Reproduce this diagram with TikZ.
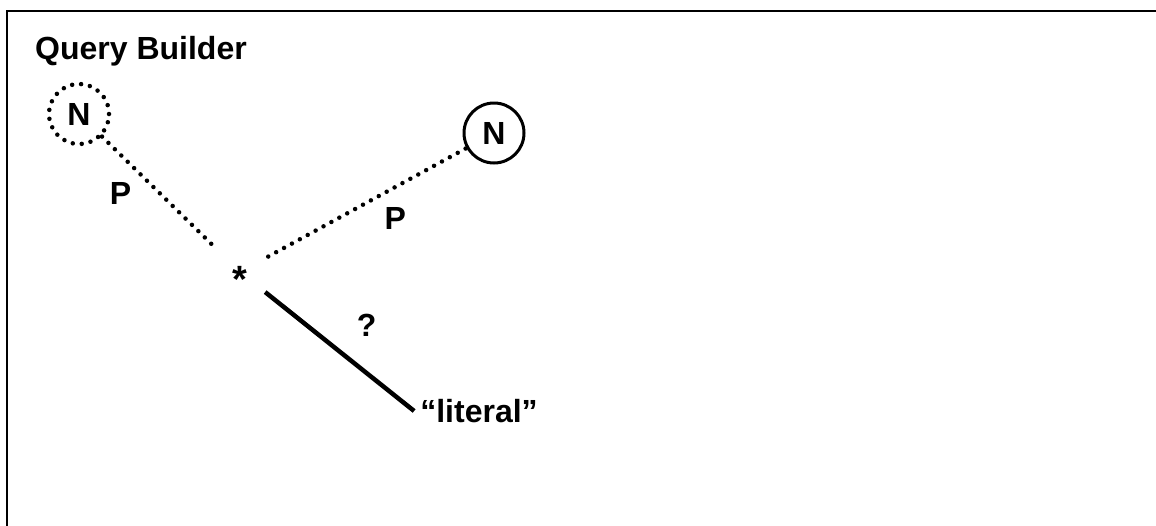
\documentclass[tikz,border=0pt]{standalone}
\usepackage{fontspec}
\setmainfont{Liberation Sans}
\usetikzlibrary{positioning}

\begin{document}
\begin{tikzpicture}[
  x=1pt, y=-1pt,
  font=\fontsize{32}{38}\selectfont\bfseries,
  term/.style={draw, circle, minimum size=60pt, inner sep=0pt},
  dotline/.style={line width=4.5pt, line cap=round, dash pattern=on 0pt off 9pt},
  solidline/.style={line width=4.5pt},
  lbl/.style={inner sep=0pt},
]
\useasboundingbox (0,0) rectangle (1156,525);
\begin{scope}
  \clip (0,0) rectangle (1156,525);
  \draw[line width=2.5pt] (7,11) rectangle (1200,600);
\end{scope}

\node[lbl, anchor=base west] (title) at (35,59) {Query Builder};

\node[term, dotline] (n1) at (79,114) {N};
\node[term, line width=3pt] (n2) at (494,133) {N};
\node[circle, minimum size=64pt, inner sep=0pt, font=\fontsize{38}{44}\selectfont\bfseries,
  text height=40pt, text depth=0pt] (hub) at (240,272) {*};
\node[lbl, inner sep=6pt] (lit) at (479,411) {“literal”};

\draw[dotline] (n1) -- node[lbl, left=26pt] (p1) {P} (hub);
\draw[dotline] (hub) -- node[lbl, below right=3pt and 15pt] (p2) {P} (n2);
\draw[solidline] (hub) -- node[lbl, above right=13pt and 15pt] (q) {?} (lit.west);
\end{tikzpicture}
\end{document}
